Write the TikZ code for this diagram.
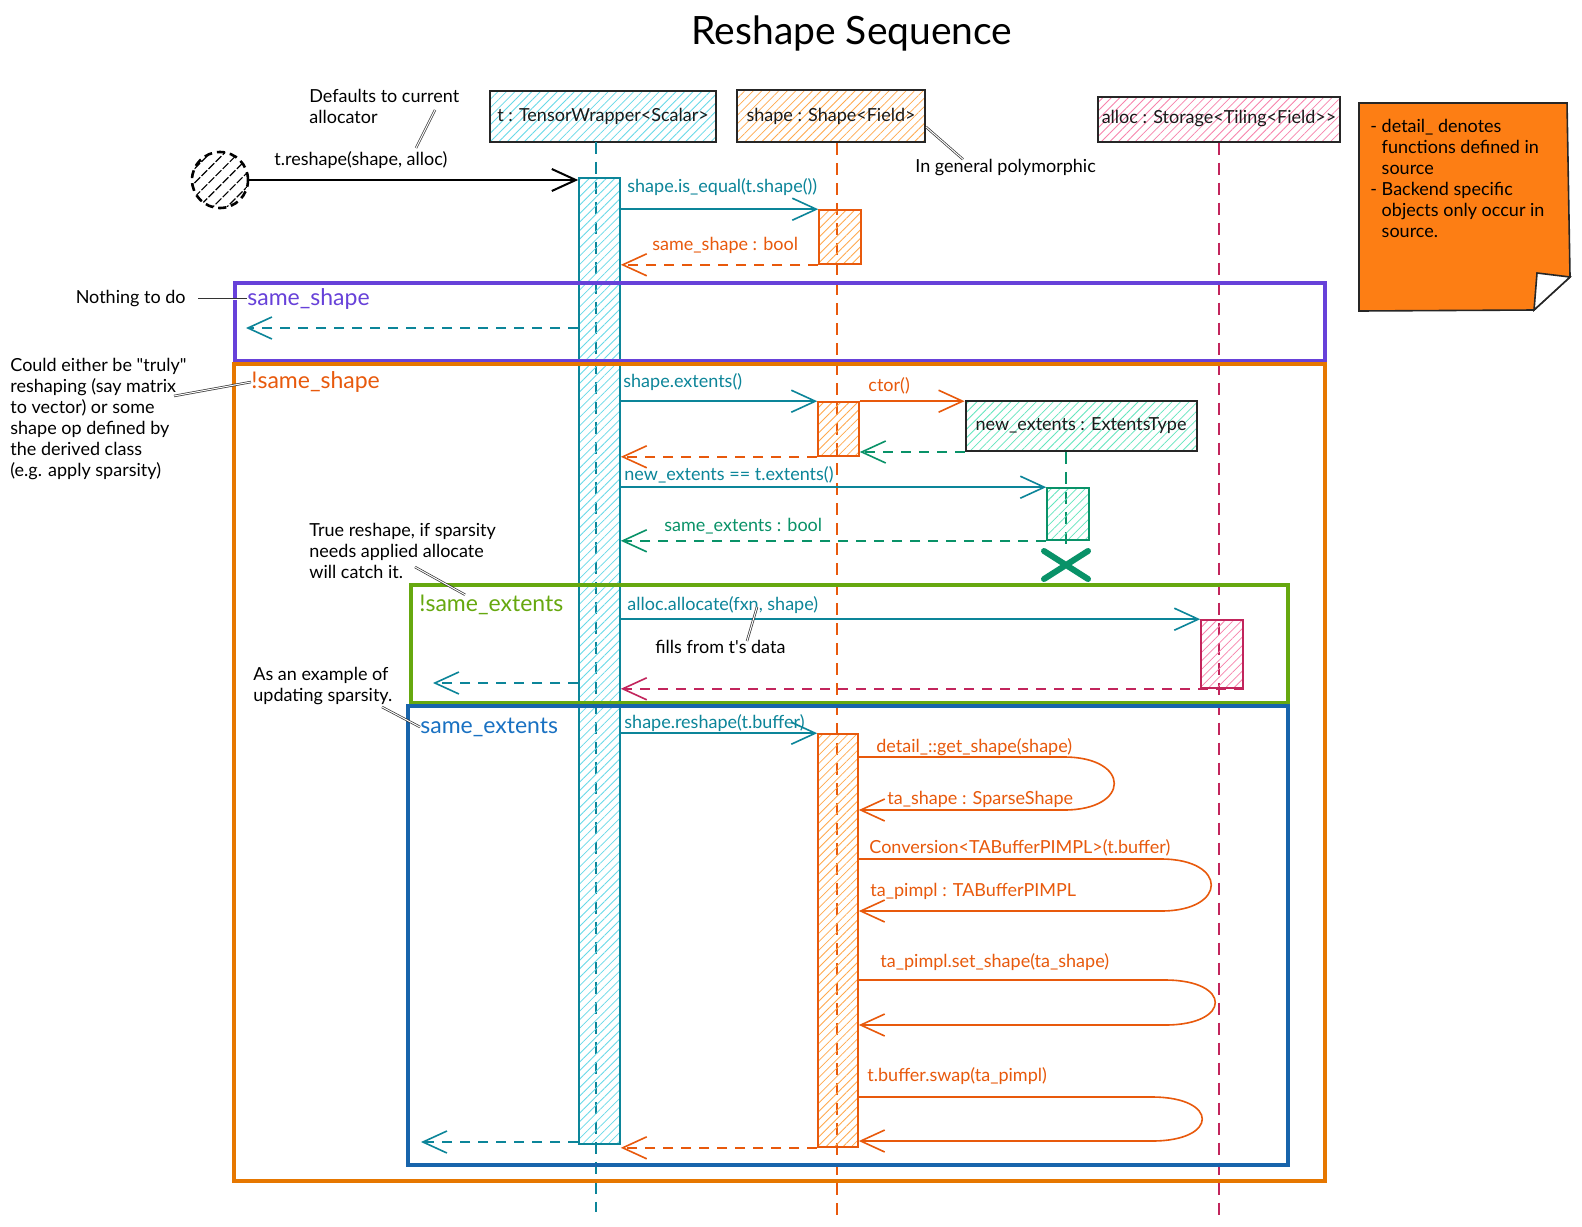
\documentclass[tikz,border=0pt]{standalone}
\usepackage{fontspec}
\setmainfont{Lato}[Ligatures=TeXOff]
\usetikzlibrary{arrows.meta,patterns.meta,shapes.misc}
\definecolor{tteal}{HTML}{0C8599}
\definecolor{tfill}{HTML}{66D9E8}
\definecolor{sorange}{HTML}{E8590C}
\definecolor{sfill}{HTML}{FFA94D}
\definecolor{acrimson}{HTML}{C2255C}
\definecolor{afill}{HTML}{F783AC}
\definecolor{ngreen}{HTML}{099268}
\definecolor{nfill}{HTML}{63E6BE}
\definecolor{fpurple}{HTML}{6741D9}
\definecolor{forange}{HTML}{E67700}
\definecolor{fgreen}{HTML}{66A80F}
\definecolor{fblue}{HTML}{1864AB}
\definecolor{lblblue}{HTML}{1971C2}
\definecolor{notefill}{HTML}{FD7E14}
\newcommand{\msgfont}{\fontsize{9}{10.5}\selectfont}
\newcommand{\framefont}{\fontsize{11.5}{13}\selectfont}
\newcommand{\titlefont}{\fontsize{19.5}{22}\selectfont}

\begin{document}
\begin{tikzpicture}[x=0.5pt,y=-0.5pt]
    \tikzstyle{hatch} = [pattern={Lines[angle=45,distance=3pt,line width=0.4pt]}]
    \tikzstyle{lifehead} = [rectangle, draw=black!85, line width=1pt, inner sep=0pt, text=black!90, font=\msgfont, hatch]
    \tikzstyle{actbar} = [rectangle, line width=0.8pt, inner sep=0pt, hatch]
    \tikzstyle{lifeline} = [line width=1.2pt, dash pattern=on 6pt off 4pt]
    \tikzstyle{callarrow} = [line width=0.8pt, -{Straight Barb[length=12pt,width=11pt]}]
    \tikzstyle{retarrow} = [callarrow, dash pattern=on 5pt off 4pt]
    \tikzstyle{msglabel} = [anchor=west, inner sep=0pt, font=\msgfont]
    \tikzstyle{framebox} = [line width=2pt]
    \tikzstyle{framelabel} = [anchor=west, inner sep=0pt, font=\framefont]
    \tikzstyle{remark} = [anchor=north west, inner sep=0pt, align=left, font=\msgfont, text=black]
    \tikzstyle{leader} = [draw=black!80, double, double distance=0.5pt, line width=0.35pt]

    \fill[white] (0,0) rectangle (1582,1226);
    \node[font=\titlefont] (title) at (852,33) {Reshape Sequence};

    % lifeline heads
    \node[lifehead, pattern color=tfill, minimum width=113pt, minimum height=25.5pt] (thead) at (603,116) {t : TensorWrapper<Scalar>};
    \node[lifehead, pattern color=sfill, minimum width=94pt, minimum height=26pt] (shead) at (831,116) {shape : Shape<Field>};
    \node[lifehead, pattern color=afill, minimum width=121pt, minimum height=22.5pt] (ahead) at (1219,119) {alloc : Storage<Tiling<Field>>};
    \node[lifehead, pattern color=nfill, minimum width=115.5pt, minimum height=25pt] (nhead) at (1081,426) {new\_extents : ExtentsType};

    % lifelines
    \coordinate (tend) at (596,1212);
    \coordinate (send) at (837,1216);
    \coordinate (aend) at (1219,1216);
    \node[cross out, draw=ngreen, line width=3pt, line cap=round, minimum width=19pt, minimum height=11pt, inner sep=0pt] (nexend) at (1066,565) {};
    \draw[lifeline, tteal] (thead.south -| tend) -- (tend);
    \draw[lifeline, sorange] (shead.south -| send) -- (send);
    \draw[lifeline, acrimson] (ahead.south -| aend) -- (aend);
    \draw[lifeline, ngreen] (nhead.south -| nexend) -- (nexend.north);

    % activation bars
    \node[actbar, draw=tteal, pattern color=tfill, minimum width=20.5pt, minimum height=483pt] (tbar) at (599.5,661) {};
    \node[actbar, draw=sorange, pattern color=sfill, minimum width=21pt, minimum height=27pt] (sbarA) at (840,237) {};
    \node[actbar, draw=sorange, pattern color=sfill, minimum width=20.5pt, minimum height=27pt] (sbarB) at (838.5,429) {};
    \node[actbar, draw=sorange, pattern color=sfill, minimum width=20pt, minimum height=206.5pt] (sbarC) at (838,940.5) {};
    \node[actbar, draw=ngreen, pattern color=nfill, minimum width=21pt, minimum height=26pt] (nbar) at (1068,514) {};
    \node[actbar, draw=acrimson, pattern color=afill, minimum width=21pt, minimum height=34pt] (abar) at (1222,654) {};

    % caller
    \node[circle, draw=black, line width=1.3pt, dash pattern=on 4pt off 2.5pt, pattern={Lines[angle=45,distance=5pt,line width=0.6pt]}, pattern color=black, minimum size=28pt, inner sep=0pt] (start) at (220,180) {};
    \node[msglabel] (call) at (274,160) {t.reshape(shape, alloc)};
    \draw[callarrow, line width=1pt] (start.east) -- (start.east -| tbar.west);

    % is_equal
    \node[msglabel, tteal] (m1) at (627,187) {shape.is\_equal(t.shape())};
    \draw[callarrow, tteal] (tbar.east |- sbarA.north) -- (sbarA.north west);
    \node[msglabel, sorange] (r1) at (652,245) {same\_shape : bool};
    \draw[retarrow, sorange] (sbarA.south west) -- (sbarA.south west -| tbar.east);
    \coordinate (ssout) at (246,328);
    \draw[retarrow, tteal] (tbar.west |- ssout) -- (ssout);

    % extents
    \node[msglabel, tteal] (m2) at (623,382) {shape.extents()};
    \draw[callarrow, tteal] (tbar.east |- sbarB.north) -- (sbarB.north west);
    \node[msglabel, sorange] (m3) at (868,386) {ctor()};
    \draw[callarrow, sorange] (sbarB.north east) -- (sbarB.north east -| nhead.west);
    \draw[retarrow, ngreen] (nhead.south west) -- (nhead.south west -| sbarB.east);
    \draw[retarrow, sorange] (sbarB.south west) -- (sbarB.south west -| tbar.east);
    \node[msglabel, tteal] (m4) at (624,475) {new\_extents == t.extents()};
    \draw[callarrow, tteal] (tbar.east |- nbar.north) -- (nbar.north west);
    \node[msglabel, ngreen] (r4) at (664,526) {same\_extents : bool};
    \draw[retarrow, ngreen] (nbar.south west) -- (nbar.south west -| tbar.east);

    % allocate
    \node[msglabel, tteal] (m5) at (627,605) {alloc.allocate(fxn, shape)};
    \draw[callarrow, tteal] (tbar.east |- abar.north) -- (abar.north west);
    \draw[retarrow, acrimson] (abar.south east) -- (abar.south east -| tbar.east);
    \coordinate (seout) at (433,683);
    \draw[retarrow, tteal] (tbar.west |- seout) -- (seout);
    \node[msglabel] (fills) at (655,647) {fills from t's data};
    \coordinate (fillsfrom) at (747,641);
    \coordinate (fillsto) at (757,607);
    \draw[leader] (fillsfrom) -- (fillsto);

    % reshape
    \node[msglabel, tteal] (m6) at (624,723) {shape.reshape(t.buffer)};
    \draw[callarrow, tteal] (tbar.east |- sbarC.north) -- (sbarC.north west);
    \node[msglabel, sorange] (m7) at (876,747) {detail\_::get\_shape(shape)};
    \draw[callarrow, sorange] (sbarC.east |- 0,757) -- (1064,757) .. controls (1131,757) and (1131,810) .. (1064,810) -- (sbarC.east |- 0,810);
    \node[msglabel, sorange] (r7) at (887,799) {ta\_shape : SparseShape};
    \node[msglabel, sorange] (m8) at (869,848) {Conversion<TABufferPIMPL>(t.buffer)};
    \draw[callarrow, sorange] (sbarC.east |- 0,859) -- (1161,859) .. controls (1228,859) and (1228,911) .. (1161,911) -- (sbarC.east |- 0,911);
    \node[msglabel, sorange] (r8) at (870,891) {ta\_pimpl : TABufferPIMPL};
    \node[msglabel, sorange] (m9) at (880,962) {ta\_pimpl.set\_shape(ta\_shape)};
    \draw[callarrow, sorange] (sbarC.east |- 0,980) -- (1165,980) .. controls (1232,980) and (1232,1025) .. (1165,1025) -- (sbarC.east |- 0,1025);
    \node[msglabel, sorange] (m10) at (867,1076) {t.buffer.swap(ta\_pimpl)};
    \draw[callarrow, sorange] (sbarC.east |- 0,1097) -- (1152,1097) .. controls (1219,1097) and (1219,1141) .. (1152,1141) -- (sbarC.east |- 0,1141);
    \draw[retarrow, sorange] (sbarC.south west) -- (sbarC.south west -| tbar.east);
    \coordinate (tout) at (421,1142);
    \draw[retarrow, tteal] (tbar.south west |- tout) -- (tout);

    % frames
    \draw[framebox, fpurple] (235,283) rectangle (1325,361);
    \node[framelabel, fpurple] (sslabel) at (247,299) {same\_shape};
    \draw[framebox, forange] (234,364) rectangle (1325,1181);
    \node[framelabel, sorange] (nsslabel) at (251,382) {!same\_shape};
    \draw[framebox, fgreen] (411,585) rectangle (1288,703);
    \node[framelabel, fgreen] (nselabel) at (419,605) {!same\_extents};
    \draw[framebox, fblue] (408,706) rectangle (1288,1165);
    \node[framelabel, lblblue] (selabel) at (420,727) {same\_extents};

    % remarks
    \node[remark] (defaults) at (309,89) {Defaults to current\\allocator};
    \coordinate (defaultsfrom) at (435,110);
    \coordinate (defaultsto) at (416,148);
    \draw[leader] (defaultsfrom) -- (defaultsto);
    \node[msglabel] (poly) at (915,168) {In general polymorphic};
    \coordinate (polyfrom) at (926,127);
    \draw[leader] (polyfrom) -- ([xshift=24pt]poly.north west);
    \node[msglabel, anchor=east] (nothing) at (186,299) {Nothing to do};
    \draw[leader] ([xshift=6pt]nothing.east) -- (sslabel.west);
    \node[remark] (could) at (10,358) {Could either be "truly"\\reshaping (say matrix\\to vector) or some\\shape op defined by\\the derived class\\(e.g. apply sparsity)};
    \coordinate (couldfrom) at (174,396);
    \draw[leader] (couldfrom) -- (nsslabel.west);
    \node[remark] (truere) at (309,523) {True reshape, if sparsity\\needs applied allocate\\will catch it.};
    \coordinate (truefrom) at (415,567);
    \draw[leader] (truefrom) -- ([xshift=23pt]nselabel.north west);
    \node[remark] (example) at (253,667) {As an example of\\updating sparsity.};
    \coordinate (examplefrom) at (382,707);
    \draw[leader] (examplefrom) -- (selabel.west);

    % sticky note
    \filldraw[fill=notefill, draw=black!85, line width=0.8pt] (1359,103) -- (1567,103) -- (1570,277) -- (1534,310) -- (1359,311) -- cycle;
    \filldraw[fill=white, draw=black!85, line width=0.8pt] (1537,273) -- (1570,277) -- (1534,310) -- cycle;
    \node[remark] (notetext) at (1370,119) {- detail\_ denotes\\\hphantom{- }functions defined in\\\hphantom{- }source\\- Backend specific\\\hphantom{- }objects only occur in\\\hphantom{- }source.};
\end{tikzpicture}
\end{document}
